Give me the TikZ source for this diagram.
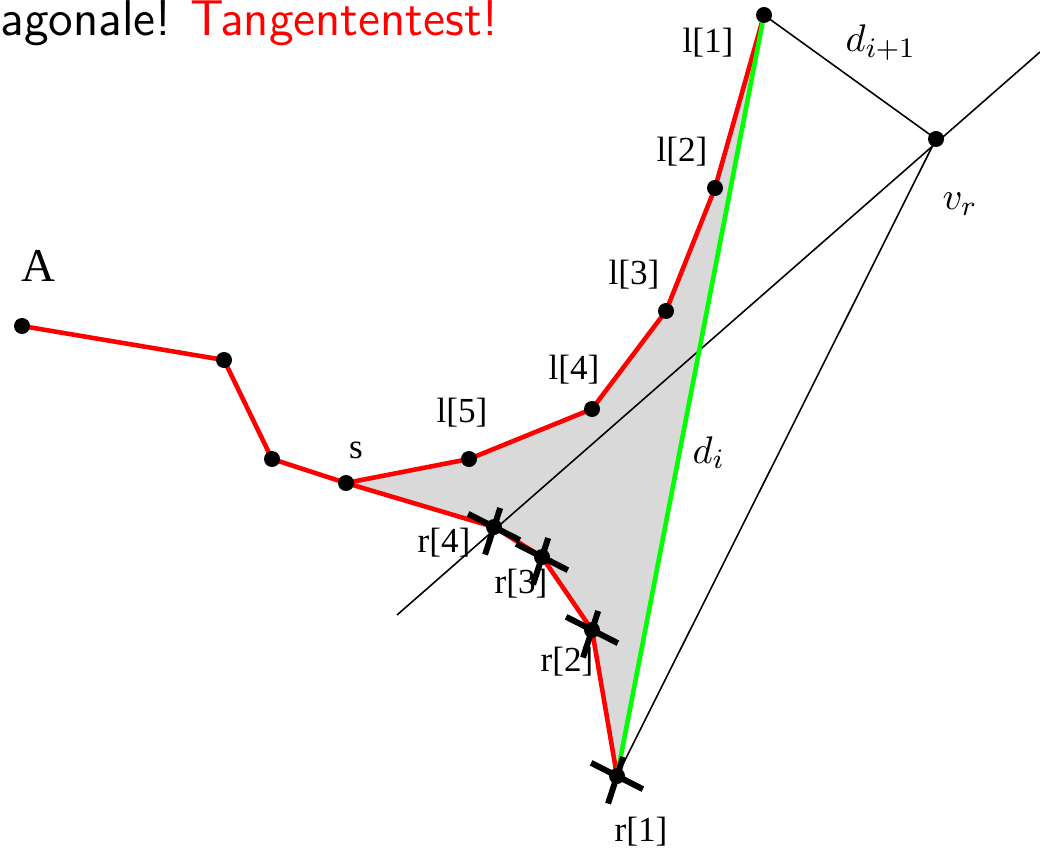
\documentclass[tikz,border=0pt]{standalone}
\usepackage{amsmath}
\usepackage{fontspec}
\newfontfamily\labfont{Liberation Serif}
\usetikzlibrary{calc}

\begin{document}
\begin{tikzpicture}[x=0.01cm, y=-0.01cm,
  every node/.style={inner sep=0pt},
  pt/.style={circle, fill=black, minimum size=0.16cm},
  lab/.style={font=\labfont\fontsize{10}{12}\selectfont},
  biglab/.style={font=\labfont\fontsize{13.4}{15}\selectfont},
  mlab/.style={anchor=base west, font=\fontsize{11}{13}\selectfont},
  head/.style={anchor=base west, font=\sffamily\fontsize{14.3}{16}\selectfont},
  chain/.style={red, line width=1.3pt, line join=round},
  diag/.style={green, line width=1.3pt},
  aux/.style={black, line width=0.45pt},
  xbar/.style={black, line width=1.7pt}]

\useasboundingbox (0,0) rectangle (1040,849);

% polygon points
\coordinate (A) at (22,326);
\coordinate (p2) at (224,360);
\coordinate (p3) at (272,459);
\coordinate (s) at (346,483);
\coordinate (l5) at (469,459);
\coordinate (l4) at (592,409);
\coordinate (l3) at (666,311);
\coordinate (l2) at (715,188);
\coordinate (l1) at (764,15);
\coordinate (r4) at (494,527);
\coordinate (r3) at (542,557);
\coordinate (r2) at (592,630);
\coordinate (r1) at (617,776);
\coordinate (vr) at (936,139);
\coordinate (lo) at (397,615);
\coordinate (hi) at (1040,52);

\fill[black!15] (s) -- (l5) -- (l4) -- (l3) -- (l2) -- (l1) -- (r1) -- (r2) -- (r3) -- (r4) -- cycle;

\draw[aux] (lo) -- (hi);
\draw[aux] (l1) -- (vr) -- (r1);

\draw[chain] (A) -- (p2) -- (p3) -- (s) -- (l5) -- (l4) -- (l3) -- (l2) -- (l1);
\draw[chain] (s) -- (r4) -- (r3) -- (r2) -- (r1);
\draw[diag] (r1) -- (l1);

\foreach \p in {A,p2,p3,s,l5,l4,l3,l2,l1,r4,r3,r2,r1,vr}
  \node[pt] (d\p) at (\p) {};

% crosses on the right chain
\foreach \p in {r4,r3,r2,r1}
  \draw[xbar] (\p) ++(207:29) -- ++(27:58) (\p) ++(-72:20) -- ++(108:49);

\node[biglab] (labA) at (39,266) {A};
\node[lab] (labs) at (356,450) {s};
\node[lab] (lab5) at (462,413) {l[5]};
\node[lab] (lab4) at (574,370) {l[4]};
\node[lab] (lab3) at (634,275) {l[3]};
\node[lab] (lab2) at (682,152) {l[2]};
\node[lab] (lab1) at (708,43) {l[1]};
\node[lab] (labr4) at (444,543) {r[4]};
\node[lab] (labr3) at (521,584) {r[3]};
\node[lab] (labr2) at (567,662) {r[2]};
\node[lab] (labr1) at (641,832) {r[1]};

\node[mlab] (labdi) at (692,463) {$d_i$};
\node[mlab] (labdn) at (845,52) {$d_{i+1}$};
\node[mlab] (labvr) at (942,210) {$v_r$};

\node[head] (top1) at (0,36) {agonale!};
\node[head, red] (top2) at (190,36) {Tangententest!};
\end{tikzpicture}
\end{document}
